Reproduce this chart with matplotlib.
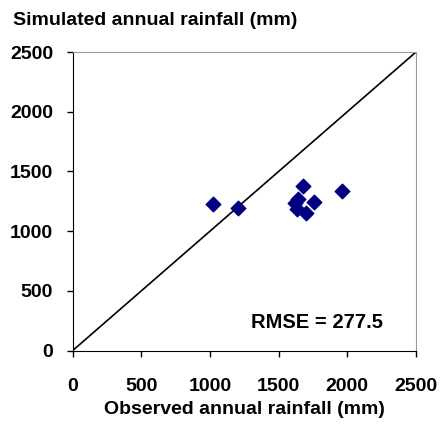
import numpy as np
import matplotlib
matplotlib.use('Agg')
import matplotlib.pyplot as plt

plt.rcParams['font.family'] = ['Liberation Sans', 'DejaVu Sans']
plt.rcParams['font.weight'] = 'bold'

# observed vs simulated annual rainfall (mm)
observed = [1020, 1207, 1675, 1961, 1760, 1644, 1619, 1632, 1697]
simulated = [1228, 1192, 1376, 1339, 1242, 1270, 1233, 1183, 1150]
ticks = [0, 500, 1000, 1500, 2000, 2500]

fig = plt.figure(figsize=(4.43, 4.25), dpi=100)
ax = fig.add_axes([0.1637, 0.1748, 0.939 - 0.1637, 0.8776 - 0.1748])

ax.plot([0, 2500], [0, 2500], color='black', lw=1.2, zorder=2)
ax.scatter(observed, simulated, marker='D', s=55, color='#000080', zorder=3)

ax.set_xlim(0, 2500)
ax.set_ylim(0, 2500)
ax.set_xticks(ticks)
ax.set_yticks(ticks)
ax.tick_params(direction='out', length=4, labelsize=14, width=1)
ax.tick_params(axis='y', pad=10)
ax.tick_params(axis='x', pad=16)
for s in ['top', 'right']:
    ax.spines[s].set_color('#999999')
for s in ['left', 'bottom']:
    ax.spines[s].set_color('black')

ax.set_xlabel('Observed annual rainfall (mm)', fontsize=14, fontweight='bold', labelpad=4)
fig.text(0.03, 0.951, 'Simulated annual rainfall (mm)', fontsize=14, fontweight='bold',
         ha='left', va='center')
ax.text(1300, 235, 'RMSE = 277.5', fontsize=14.5, fontweight='bold', va='center')

fig.savefig('out.png', dpi=100)
